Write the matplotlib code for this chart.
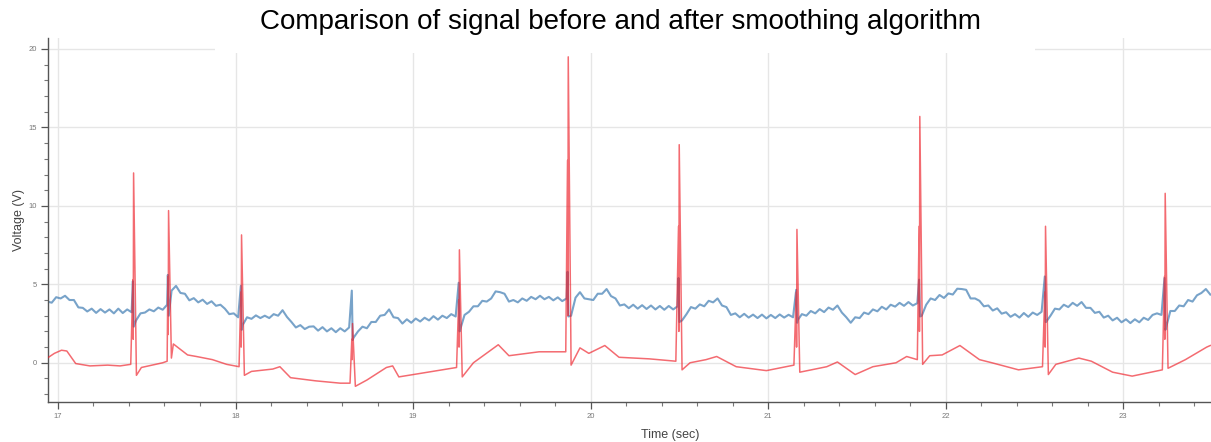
"""Raw vs smoothed ECG-like signal, before/after smoothing."""

import matplotlib
matplotlib.use("Agg")
import matplotlib.pyplot as plt
from matplotlib.patches import Rectangle
from matplotlib.ticker import MultipleLocator
import numpy as np

plt.rcParams["font.family"] = ["Liberation Sans", "DejaVu Sans"]

# beat (QRS) times, seconds
beat_t = [17.422, 17.619, 18.03, 18.655, 19.257, 19.87, 20.495, 21.158, 21.85, 22.558, 23.232]

# smoothed signal (red): spike levels per beat
red_inner = [5.3, 5.5, 4.5, 1.5, 4.0, 12.9, 8.7, 4.5, 8.7, 4.5, 5.5]
red_notch = [1.5, 1.8, 1.0, 0.2, 1.0, 3.0, 2.0, 1.0, 2.0, 1.0, 1.5]
red_peak = [12.1, 9.7, 8.15, 2.5, 7.2, 19.5, 13.9, 8.5, 15.7, 8.7, 10.8]
red_trough = [-0.8, 0.3, -0.8, -1.5, -0.9, -0.15, -0.45, -0.6, -0.1, -0.75, -0.35]

# smoothed signal (red): baseline between beats
red_base_t = [16.94, 16.98, 17.02, 17.05, 17.10, 17.18, 17.28, 17.35, 17.41,
              17.47, 17.59, 17.615,
              17.65, 17.73, 17.78, 17.87, 17.95, 18.02,
              18.09, 18.21, 18.25, 18.31, 18.45, 18.59, 18.645,
              18.74, 18.85, 18.885, 18.92, 19.11, 19.245,
              19.34, 19.48, 19.54, 19.71, 19.86,
              19.94, 19.99, 20.08, 20.16, 20.33, 20.48,
              20.56, 20.65, 20.71, 20.82, 20.99, 21.145,
              21.33, 21.39, 21.49, 21.59, 21.72, 21.78, 21.84,
              21.91, 21.98, 22.08, 22.19, 22.26, 22.41, 22.545,
              22.62, 22.75, 22.82, 22.94, 23.05, 23.22,
              23.35, 23.47, 23.49]
red_base_v = [0.3, 0.6, 0.8, 0.75, -0.05, -0.2, -0.15, -0.2, -0.1,
              -0.3, 0.0, 0.1,
              1.2, 0.5, 0.4, 0.2, -0.1, -0.25,
              -0.55, -0.4, -0.25, -0.95, -1.15, -1.3, -1.3,
              -1.1, -0.3, -0.2, -0.9, -0.55, -0.3,
              0.0, 1.15, 0.45, 0.7, 0.7,
              0.95, 0.6, 1.1, 0.35, 0.25, 0.1,
              0.0, 0.2, 0.4, -0.25, -0.5, -0.15,
              -0.25, 0.05, -0.75, -0.25, 0.0, 0.4, 0.2,
              0.45, 0.5, 1.1, 0.2, 0.0, -0.45, -0.25,
              -0.1, 0.3, 0.1, -0.6, -0.85, -0.45,
              0.2, 1.0, 1.1]

# raw signal (blue): spike top and dip per beat
blue_top = [5.2, 5.6, 4.9, 4.6, 5.1, 5.8, 5.4, 4.65, 5.3, 5.5, 5.4]
blue_dip = [2.3, 3.0, 2.1, 1.45, 2.0, 2.95, 2.6, 2.55, 2.95, 2.6, 2.1]

# raw signal (blue): samples every 25 ms from 16.94 s
blue_t0 = 16.94
blue_dt = 0.025
blue_v = [
    3.9, 3.83, 4.18, 4.1, 4.27, 4.0, 4.0, 3.53, 3.5, 3.27,
    3.45, 3.18, 3.42, 3.2, 3.4, 3.15, 3.45, 3.17, 3.4, 3.22,
    2.7, 3.15, 3.2, 3.4, 3.28, 3.52, 3.38, 3.7, 4.6, 4.9,
    4.45, 4.4, 3.98, 4.12, 3.85, 4.02, 3.75, 3.92, 3.63, 3.7,
    3.45, 3.1, 3.15, 2.9, 2.4, 2.9, 2.8, 3.02, 2.85, 3.0,
    2.85, 3.1, 3.0, 3.35, 2.92, 2.6, 2.25, 2.4, 2.15, 2.3,
    2.32, 2.05, 2.27, 2.0, 2.2, 1.95, 2.2, 2.0, 2.25, 1.6,
    2.0, 2.3, 2.2, 2.6, 2.6, 3.0, 3.05, 3.4, 2.9, 2.85,
    2.5, 2.77, 2.55, 2.82, 2.63, 2.87, 2.7, 2.97, 2.75, 3.0,
    2.85, 3.1, 2.95, 2.1, 3.05, 3.25, 3.6, 3.6, 3.95, 3.9,
    4.1, 4.55, 4.5, 4.4, 3.9, 4.0, 3.85, 4.1, 3.95, 4.2,
    4.05, 4.27, 4.05, 4.2, 3.98, 4.17, 3.93, 4.1, 3.0, 4.15,
    4.5, 4.1, 4.05, 4.0, 4.4, 4.4, 4.7, 4.25, 4.1, 3.65,
    3.72, 3.48, 3.7, 3.45, 3.67, 3.43, 3.65, 3.4, 3.62, 3.38,
    3.62, 3.4, 3.6, 2.7, 3.1, 3.55, 3.45, 3.72, 3.6, 3.95,
    3.85, 4.1, 3.65, 3.55, 3.05, 3.15, 2.9, 3.12, 2.88, 3.07,
    2.85, 3.07, 2.83, 3.05, 2.85, 3.08, 2.88, 3.06, 2.9, 2.7,
    3.1, 3.0, 3.3, 3.15, 3.42, 3.23, 3.52, 3.38, 3.65, 3.2,
    2.9, 2.55, 2.9, 2.85, 3.2, 3.1, 3.4, 3.28, 3.57, 3.4,
    3.7, 3.58, 3.82, 3.63, 3.87, 3.65, 3.8, 3.0, 3.7, 4.1,
    4.0, 4.32, 4.13, 4.42, 4.35, 4.72, 4.7, 4.65, 4.1, 4.1,
    3.95, 3.6, 3.65, 3.33, 3.47, 3.13, 3.22, 2.93, 3.1, 2.88,
    3.17, 2.93, 3.2, 3.05, 3.25, 2.6, 3.0, 3.45, 3.4, 3.7,
    3.55, 3.82, 3.63, 3.87, 3.5, 3.5, 3.18, 3.25, 2.88, 3.0,
    2.7, 2.87, 2.58, 2.77, 2.53, 2.77, 2.58, 2.87, 2.73, 3.05,
    3.15, 3.05, 2.2, 3.3, 3.3, 3.65, 3.6, 4.0, 3.9, 4.3,
    4.45, 4.7, 4.35,
]


def red_series():
    pts = list(zip(red_base_t, red_base_v))
    for t, a, n, p, d in zip(beat_t, red_inner, red_notch, red_peak, red_trough):
        pts += [(t, a), (t + 0.002, n), (t + 0.004, p), (t + 0.02, d)]
    pts.sort()
    return np.array(pts).T


def blue_series():
    times = np.round(blue_t0 + blue_dt * np.arange(len(blue_v)), 3)
    pts = list(zip(times, blue_v))
    for t, top, dip in zip(beat_t, blue_top, blue_dip):
        pts += [(t, top), (t + 0.005, dip)]
    pts.sort()
    return np.array(pts).T


def main():
    fig = plt.figure(figsize=(12.11, 4.42), dpi=100)
    ax = fig.add_axes([48 / 1211, 40 / 442, 1 - 48 / 1211, 364 / 442])

    bt, bv = blue_series()
    rt, rv = red_series()
    ax.plot(bt, bv, color="#3f7cb3", linewidth=1.5, alpha=0.7, zorder=2)
    ax.plot(rt, rv, color="#ee1c25", linewidth=1.1, alpha=0.65, zorder=3)

    ax.set_xlim(16.944, 23.494)
    ax.set_ylim(-2.5, 20.7)
    ax.xaxis.set_major_locator(MultipleLocator(1))
    ax.xaxis.set_minor_locator(MultipleLocator(0.2))
    ax.yaxis.set_major_locator(MultipleLocator(5))
    ax.yaxis.set_minor_locator(MultipleLocator(1))
    ax.tick_params(which="major", direction="out", length=5, width=0.9,
                   color="#555555", labelsize=5.5, labelcolor="#777777", pad=3)
    ax.tick_params(which="minor", direction="out", length=3, width=0.8, color="#777777")

    for side in ("top", "right"):
        ax.spines[side].set_visible(False)
    for side in ("left", "bottom"):
        ax.spines[side].set_color("#555555")
        ax.spines[side].set_linewidth(1.0)

    ax.grid(True, which="major", color="#e6e6e6", linewidth=1.0)
    ax.set_axisbelow(True)

    ax.set_xlabel("Time (sec)", fontsize=9, color="#444444")
    ax.xaxis.set_label_coords((670 - 48) / (1211 - 48), -0.075)
    ax.set_ylabel("Voltage (V)", fontsize=9, color="#444444")
    ax.yaxis.set_label_coords(-0.02, 0.5)

    # white title band that hides the top gridline, as in the original
    fig.patches.append(Rectangle((215 / 1211, 1 - 53 / 442), 820 / 1211, 53 / 442,
                                 transform=fig.transFigure, facecolor="white",
                                 edgecolor="none", zorder=5))
    fig.text(621 / 1211, 1 - 22 / 442,
             "Comparison of signal before and after smoothing algorithm",
             ha="center", va="center", fontsize=20, color="black", zorder=6)

    fig.savefig("out.png", dpi=100)


if __name__ == "__main__":
    main()
